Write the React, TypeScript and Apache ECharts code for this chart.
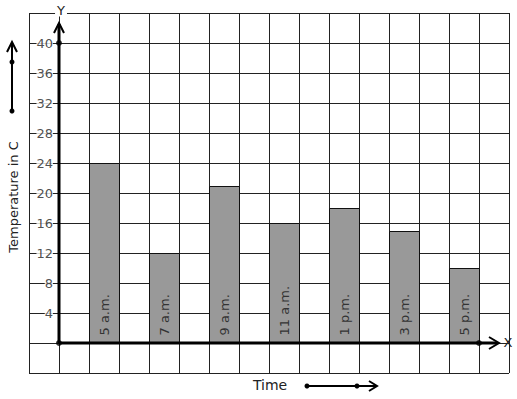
import React, { useEffect, useRef } from 'react';
import * as echarts from 'echarts';

const times = ['5 a.m.', '7 a.m.', '9 a.m.', '11 a.m.', '1 p.m.', '3 p.m.', '5 p.m.'];
const temps = [24, 12, 21, 16, 18, 15, 10];
const yTickLabels = [4, 8, 12, 16, 20, 24, 28, 32, 36, 40];

const FONT = 'DejaVu Sans';

export default function App() {
  const ref = useRef<HTMLDivElement>(null);
  useEffect(() => {
    const chart = echarts.init(ref.current!, null, { renderer: 'svg' });
    const gridLine = { show: true, lineStyle: { color: '#222', width: 1, type: 'solid' } };
    const g = (o: any) => ({ z: 100, ...o });
    chart.setOption({
      animation: false,
      grid: { left: 29, top: 13, width: 480, height: 360, outerBoundsMode: 'none' },
      xAxis: {
        type: 'value', min: -1, max: 15, interval: 1,
        axisLine: { show: false, onZero: true }, axisTick: { show: false },
        axisLabel: { show: false }, splitLine: gridLine,
      },
      yAxis: {
        type: 'value', min: -4, max: 44, interval: 4,
        axisLine: { show: false, onZero: true }, axisTick: { show: false },
        axisLabel: { show: false },
        splitLine: gridLine,
      },
      series: [
        {
          type: 'custom',
          silent: true,
          data: temps.map((t, i) => [2 * i + 1, 2 * i + 2, t]),
          encode: { x: [0, 1], y: 2 },
          renderItem: (params: any, api: any) => {
            const p0 = api.coord([api.value(0), 0]);
            const p1 = api.coord([api.value(1), api.value(2)]);
            const x0 = Math.round(p0[0]) + 0.5;
            const x1 = Math.round(p1[0]) + 0.5;
            const yTop = Math.round(p1[1]) + 0.5;
            const yBot = Math.round(p0[1]) + 0.5;
            return {
              type: 'group',
              children: [
                {
                  type: 'rect',
                  shape: { x: x0, y: yTop, width: x1 - x0, height: yBot - yTop },
                  style: { fill: '#999999', stroke: '#111', lineWidth: 1 },
                },
                {
                  type: 'text',
                  x: (x0 + x1) / 2,
                  y: yBot - 8,
                  rotation: Math.PI / 2,
                  style: {
                    text: times[params.dataIndex], fill: '#333',
                    font: `13px "${FONT}"`, align: 'left', verticalAlign: 'middle',
                  },
                },
              ],
            };
          },
        },
        {
          type: 'scatter', silent: true, symbolSize: 0,
          data: yTickLabels.map((v) => [0, v]),
          itemStyle: { color: 'transparent' },
          label: {
            show: true, position: 'left', distance: 6,
            formatter: (p: any) => String(p.value[1]),
            color: '#222', fontFamily: FONT, fontSize: 13,
            backgroundColor: '#fff', padding: 0,
          },
        },
        {
          type: 'line', silent: true, symbol: 'none',
          data: [[0, 0], [0, 42.5]],
          lineStyle: { color: '#000', width: 3 },
        },
        {
          type: 'line', silent: true, symbol: 'none',
          data: [[0, 0], [14.6, 0]],
          lineStyle: { color: '#000', width: 3 },
        },
        {
          type: 'scatter', silent: true, symbolSize: 6,
          data: [[0, 0], [0, 40], [14, 0]],
          itemStyle: { color: '#000' },
        },
      ],
      graphic: [
        g({ type: 'polyline', shape: { points: [[54, 33], [59, 23], [64, 33]] }, style: { stroke: '#000', lineWidth: 2, fill: 'none' } }),
        g({ type: 'polyline', shape: { points: [[489, 337], [499, 343], [489, 349]] }, style: { stroke: '#000', lineWidth: 2, fill: 'none' } }),
        g({ type: 'text', x: 61, y: 10, style: { text: 'Y', font: `13px "${FONT}"`, fill: '#222', align: 'center', verticalAlign: 'middle', backgroundColor: '#fff', padding: [0, 2] } }),
        g({ type: 'text', x: 508, y: 342, style: { text: 'X', font: `13px "${FONT}"`, fill: '#222', align: 'center', verticalAlign: 'middle' } }),
        // left decoration arrow and axis title
        g({ type: 'line', shape: { x1: 12, y1: 111, x2: 12, y2: 43 }, style: { stroke: '#000', lineWidth: 2 } }),
        g({ type: 'polyline', shape: { points: [[7, 52], [12, 42], [17, 52]] }, style: { stroke: '#000', lineWidth: 2, fill: 'none' } }),
        g({ type: 'circle', shape: { cx: 12, cy: 62, r: 2.5 }, style: { fill: '#000' } }),
        g({ type: 'circle', shape: { cx: 12, cy: 111, r: 2.5 }, style: { fill: '#000' } }),
        g({ type: 'text', x: 13, y: 197, rotation: Math.PI / 2, style: { text: 'Temperature in C', font: `13px "${FONT}"`, fill: '#222', align: 'center', verticalAlign: 'middle' } }),
        // bottom decoration and axis title
        g({ type: 'text', x: 270, y: 385, style: { text: 'Time', font: `14px "${FONT}"`, fill: '#222', align: 'center', verticalAlign: 'middle' } }),
        g({ type: 'line', shape: { x1: 307, y1: 386, x2: 376, y2: 386 }, style: { stroke: '#000', lineWidth: 2 } }),
        g({ type: 'polyline', shape: { points: [[369, 381], [377, 386], [369, 391]] }, style: { stroke: '#000', lineWidth: 2, fill: 'none' } }),
        g({ type: 'circle', shape: { cx: 307, cy: 386, r: 2.5 }, style: { fill: '#000' } }),
        g({ type: 'circle', shape: { cx: 357, cy: 386, r: 2.5 }, style: { fill: '#000' } }),
      ],
    });
    return () => chart.dispose();
  }, []);
  return <div ref={ref} style={{ width: 517, height: 399, position: 'absolute', left: 0, top: 0 }} />;
}
